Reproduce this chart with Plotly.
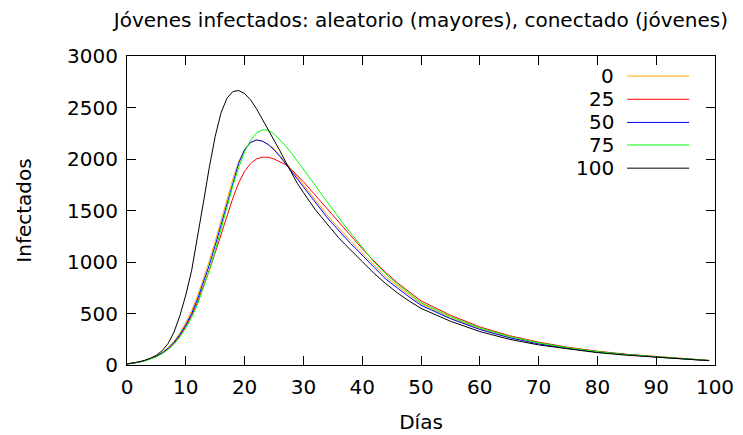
import plotly.graph_objects as go

dias = list(range(0, 41)) + [42, 44, 46, 48, 50] + [55, 60, 65, 70, 75, 80, 85, 90, 95, 99]

serie_0 = [10, 17, 29, 44, 63, 89, 124, 170, 232, 312, 412, 528, 672, 835, 1010, 1200, 1400, 1605, 1805, 1975,
           2095, 2160, 2182, 2175, 2145, 2098, 2035, 1968, 1896, 1822, 1750, 1677, 1603, 1530, 1460, 1393, 1328,
           1265, 1205, 1148, 1092, 972, 858, 765, 678, 595, 460, 352, 270, 208, 162, 127, 99, 78, 58, 43]
serie_25 = [10, 17, 28, 42, 59, 82, 113, 155, 210, 282, 375, 480, 610, 760, 920, 1090, 1270, 1450, 1620, 1770,
            1880, 1955, 2000, 2018, 2018, 2000, 1975, 1945, 1895, 1840, 1780, 1715, 1650, 1582, 1515, 1450, 1385,
            1320, 1255, 1192, 1130, 1010, 898, 798, 708, 622, 484, 370, 285, 222, 172, 134, 104, 81, 61, 45]
serie_50 = [10, 17, 28, 42, 60, 85, 118, 162, 220, 295, 390, 500, 640, 800, 970, 1160, 1360, 1570, 1780, 1960,
            2090, 2160, 2185, 2175, 2140, 2090, 2025, 1955, 1880, 1805, 1730, 1655, 1580, 1505, 1435, 1370, 1305,
            1240, 1180, 1125, 1070, 950, 835, 745, 660, 580, 450, 345, 265, 205, 160, 125, 98, 77, 58, 43]
serie_75 = [10, 16, 27, 40, 57, 80, 110, 150, 202, 272, 360, 460, 590, 745, 920, 1110, 1320, 1530, 1740, 1920,
            2070, 2180, 2250, 2282, 2280, 2245, 2190, 2125, 2055, 1980, 1905, 1825, 1745, 1665, 1585, 1505, 1430,
            1355, 1285, 1215, 1150, 1000, 885, 785, 695, 605, 470, 360, 278, 215, 167, 130, 101, 79, 60, 44]
serie_100 = [10, 18, 30, 45, 65, 95, 140, 210, 320, 480, 680, 920, 1230, 1580, 1920, 2220, 2450, 2590, 2655, 2665,
             2635, 2575, 2490, 2390, 2290, 2190, 2080, 1970, 1860, 1760, 1675, 1590, 1510, 1440, 1370, 1300, 1235,
             1175, 1115, 1060, 1005, 890, 790, 700, 620, 550, 425, 325, 250, 195, 155, 120, 95, 75, 55, 42]

nombres = ["0", "25", "50", "75", "100"]
series = [serie_0, serie_25, serie_50, serie_75, serie_100]
colores = ["#FFA500", "#FF0000", "#0000FF", "#00FF00", "#000000"]

FONT = "DejaVu Sans"
FS = 20

fig = go.Figure()
for n, s, c in zip(nombres, series, colores):
    fig.add_trace(go.Scatter(x=dias, y=s, mode="lines", name=n,
                             line=dict(color=c, width=1), showlegend=False))

# gnuplot-style legend: label right-aligned, sample line to the right
leg_y = [0.935, 0.860, 0.785, 0.712, 0.637]
for n, c, yy in zip(nombres, colores, leg_y):
    fig.add_annotation(x=0.8248, y=yy, xref="paper", yref="paper", text=n, showarrow=False,
                       xanchor="right", yanchor="middle", xshift=4,
                       font=dict(family=FONT, size=FS, color="black"))
    fig.add_shape(type="line", xref="paper", yref="paper", x0=0.8506, x1=0.956, y0=yy, y1=yy,
                  line=dict(color=c, width=1))

axis_common = dict(showline=True, linecolor="black", linewidth=1, mirror="allticks",
                   ticks="inside", ticklen=9, tickcolor="black", tickwidth=1,
                   showgrid=False, zeroline=False, automargin=False,
                   tickfont=dict(family=FONT, size=FS, color="black"))

fig.update_layout(
    width=743, height=435,
    margin=dict(l=127, r=28, t=56, b=70),
    paper_bgcolor="white", plot_bgcolor="white",
    title=dict(text="Jóvenes infectados: aleatorio (mayores), conectado (jóvenes)",
               x=0.5665, xanchor="center", y=0.954, yanchor="middle",
               font=dict(family=FONT, size=FS, color="black")),
    xaxis=dict(range=[0, 100], dtick=10, tick0=0, ticklabelstandoff=4,
               title=dict(text="Días", font=dict(family=FONT, size=FS, color="black"), standoff=16),
               **axis_common),
    yaxis=dict(range=[0, 3000], dtick=500, tick0=0, ticklabelstandoff=4,
               title=dict(text="Infectados", font=dict(family=FONT, size=FS, color="black"), standoff=30),
               **axis_common),
)

fig.write_html("out.html")
